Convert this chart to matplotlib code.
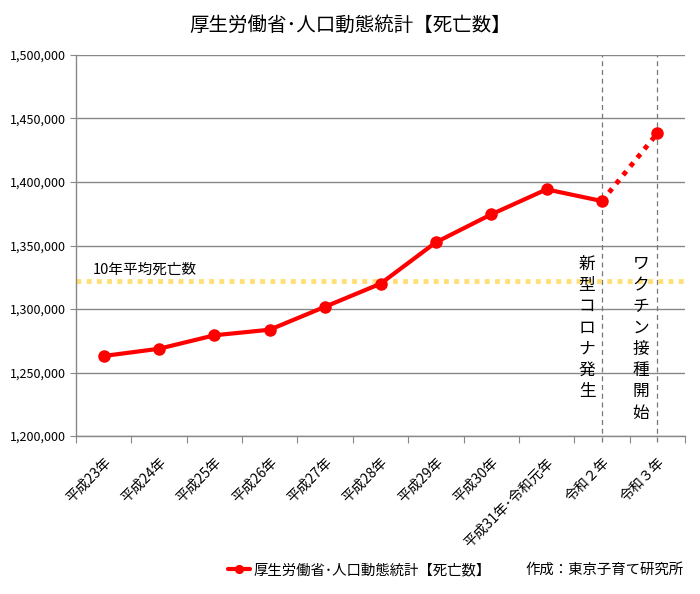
import matplotlib.pyplot as plt
from matplotlib.ticker import FuncFormatter

plt.rcParams['font.family'] = ['Noto Sans CJK JP', 'DejaVu Sans']

# data
years = ['平成23年', '平成24年', '平成25年', '平成26年', '平成27年', '平成28年',
         '平成29年', '平成30年', '平成31年･令和元年', '令和２年', '令和３年']
deaths = [1263000, 1268700, 1279300, 1283700, 1301800, 1319900,
          1352500, 1374500, 1394200, 1385000, 1438300]
avg_10yr = 1322000

fig = plt.figure(figsize=(7, 5.94), dpi=100)
ax = fig.add_axes([76 / 700, 1 - 436 / 594, 609 / 700, 381 / 594])

x = list(range(len(years)))

# average line
ax.axhline(avg_10yr, color='#FFDF75', lw=3.5, ls=(0, (1, 1.1)), zorder=2)
ax.text(-0.2, avg_10yr + 3500, '10年平均死亡数', fontsize=10.5, va='bottom', ha='left')

# event lines
for xi in [9, 10]:
    ax.axvline(xi, ymin=-0.015, ymax=1, color='#777777', lw=0.9, ls=(0, (4, 3)),
               clip_on=False, zorder=1)

ax.text(8.73, 1342000, '\n'.join('新型コロナ発生'), fontsize=12, ha='center', va='top',
        linespacing=1.33)
ax.text(9.7, 1342000, '\n'.join('ワクチン接種開始'), fontsize=12, ha='center', va='top',
        linespacing=1.33)

# data line
line, = ax.plot(x[:10], deaths[:10], color='#FF0000', lw=3, marker='o', ms=8, zorder=4,
                solid_capstyle='round')
ax.plot(x[9:], deaths[9:], color='#FF0000', lw=3.5, ls=(0, (1, 1.3)), zorder=4)
ax.plot(x[10:], deaths[10:], color='#FF0000', marker='o', ms=8, ls='none', zorder=5)

ax.set_xlim(-0.5, len(years) - 0.5)
ax.set_ylim(1200000, 1500000)
ax.set_yticks(range(1200000, 1500001, 50000))
ax.yaxis.set_major_formatter(FuncFormatter(lambda v, p: f'{int(v):,}'))
ax.tick_params(axis='y', labelsize=9, length=4, color='#888888', pad=3)

ax.set_xticks([i - 0.5 for i in range(len(years) + 1)])
ax.set_xticklabels([])
ax.set_xticks(x, minor=True)
ax.set_xticklabels(years, minor=True, rotation=45, ha='right', va='top',
                   rotation_mode='anchor', fontsize=10)
ax.tick_params(axis='x', which='major', length=5, color='#888888', direction='out')
ax.tick_params(axis='x', which='minor', length=0, pad=14)

ax.grid(axis='y', color='#888888', lw=1)
ax.set_axisbelow(True)
for s in ['top', 'right']:
    ax.spines[s].set_visible(False)
for s in ['left', 'bottom']:
    ax.spines[s].set_color('#888888')
    ax.spines[s].set_linewidth(1)

fig.text(0.5, 1 - 25 / 594, '厚生労働省･人口動態統計【死亡数】', fontsize=14,
         ha='center', va='center')

fig.legend([line], ['厚生労働省･人口動態統計【死亡数】'], loc='center left',
           bbox_to_anchor=(215 / 700, 1 - 570 / 594), frameon=False, fontsize=10.4,
           handlelength=1.5, handletextpad=0.3, markerscale=0.7)
fig.text(525 / 700, 1 - 570 / 594, '作成：東京子育て研究所', fontsize=10.4,
         ha='left', va='center')

fig.savefig('out.png', dpi=100)
